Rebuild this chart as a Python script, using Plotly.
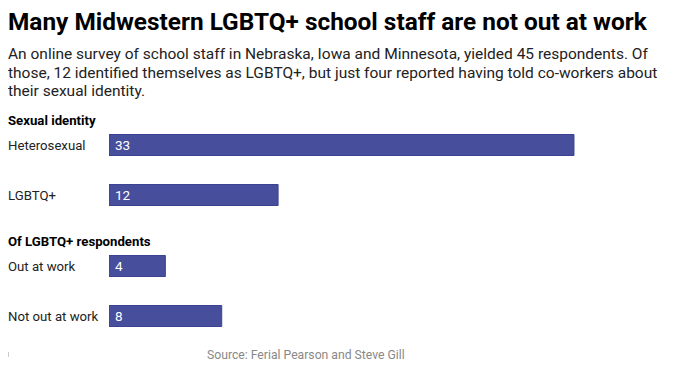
import plotly.graph_objects as go

identity_cats = ["Heterosexual", "LGBTQ+"]
identity_vals = [33, 12]
out_cats = ["Out at work", "Not out at work"]
out_vals = [4, 8]

title = "Many Midwestern LGBTQ+ school staff are not out at work"
subtitle_lines = [
    "An online survey of school staff in Nebraska, Iowa and Minnesota, yielded 45 respondents. Of",
    "those, 12 identified themselves as LGBTQ+, but just four reported having told co-workers about",
    "their sexual identity.",
]
header1 = "Sexual identity"
header2 = "Of LGBTQ+ respondents"
source = "Source: Ferial Pearson and Steve Gill"

OFF = 8  # page body margin
W, H = 680, 370
ML, MR, MT, MB = 109 - OFF, 40, 120 - OFF, 29 + OFF
PW = W - ML - MR
PH = H - MT - MB
PX_PER_UNIT = 14.09
BAR = "#474f9c"
LEFT = 6  # annotation box left edge; text itself starts ~2px further right

def px(x):
    return (x - OFF - ML) / PW

def py(y):
    return (H - MB - (y - OFF)) / PH

fig = go.Figure()
for cats, vals, ax in [(identity_cats, identity_vals, "y"), (out_cats, out_vals, "y2")]:
    fig.add_trace(go.Bar(
        x=vals, y=cats, orientation="h",
        xaxis="x", yaxis=ax,
        marker=dict(color=BAR, line=dict(color="#3c4392", width=1)),
        hoverinfo="skip", width=0.42,
    ))

ann = []
ann.append(dict(text="<b>" + title + "</b>", x=px(LEFT), y=py(21), xref="paper", yref="paper",
                xanchor="left", yanchor="middle", showarrow=False,
                font=dict(family="Roboto", size=24.4, color="#000")))
for i, line in enumerate(subtitle_lines):
    ann.append(dict(text=line, x=px(LEFT), y=py(54 + 18.5 * i), xref="paper", yref="paper",
                    xanchor="left", yanchor="middle", showarrow=False, align="left",
                    font=dict(family="Roboto", size=15.5, color="#222")))
ann.append(dict(text="<b>" + header1 + "</b>", x=px(LEFT), y=py(120), xref="paper", yref="paper",
                xanchor="left", yanchor="middle", showarrow=False,
                font=dict(family="Roboto", size=13.2, color="#000")))
ann.append(dict(text="<b>" + header2 + "</b>", x=px(LEFT), y=py(241), xref="paper", yref="paper",
                xanchor="left", yanchor="middle", showarrow=False,
                font=dict(family="Roboto", size=13.2, color="#000")))
for cats, vals, ax in [(identity_cats, identity_vals, "y"), (out_cats, out_vals, "y2")]:
    for c, v in zip(cats, vals):
        ann.append(dict(text=c, x=px(LEFT), y=c, xref="paper", yref=ax, xanchor="left",
                        yanchor="middle", showarrow=False,
                        font=dict(family="Roboto", size=13.2, color="#222")))
        ann.append(dict(text=str(v), x=0, y=c, xref="x", yref=ax, xanchor="left", xshift=4,
                        yanchor="middle", showarrow=False,
                        font=dict(family="Roboto", size=13.5, color="white")))
ann.append(dict(text=source, x=px(205), y=py(355), xref="paper", yref="paper",
                xanchor="left", yanchor="middle", showarrow=False,
                font=dict(family="Roboto", size=12.2, color="#888")))

fig.update_layout(
    width=W, height=H, margin=dict(l=ML, r=MR, t=MT, b=MB),
    paper_bgcolor="white", plot_bgcolor="white", showlegend=False,
    xaxis=dict(range=[0, PW / PX_PER_UNIT], visible=False, fixedrange=True),
    yaxis=dict(domain=[py(220), 1], autorange="reversed", visible=False, type="category"),
    yaxis2=dict(domain=[0, py(241)], autorange="reversed", visible=False, type="category"),
    annotations=ann,
    shapes=[dict(type="line", xref="paper", yref="paper", x0=px(8.5), x1=px(8.5),
                 y0=py(352), y1=py(357), line=dict(color="#ccc", width=1))],
    font=dict(family="Roboto"),
)
fig.write_html("out.html")
